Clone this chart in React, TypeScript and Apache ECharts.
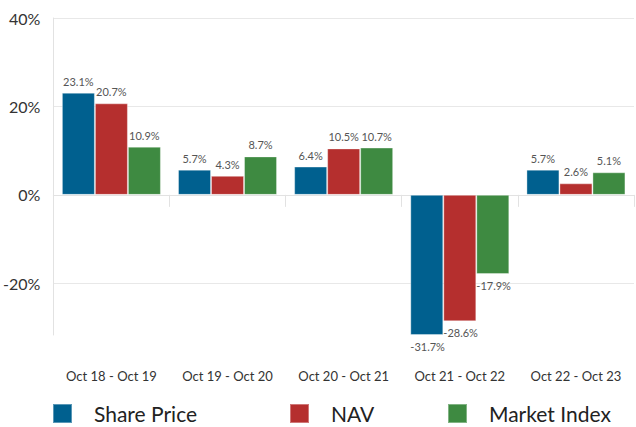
import React, { useEffect, useRef } from "react";
import * as echarts from "echarts";

const categories = ["Oct 18 - Oct 19", "Oct 19 - Oct 20", "Oct 20 - Oct 21", "Oct 21 - Oct 22", "Oct 22 - Oct 23"];
const sharePrice = [23.1, 5.7, 6.4, -31.7, 5.7];
const nav = [20.7, 4.3, 10.5, -28.6, 2.6];
const marketIndex = [10.9, 8.7, 10.7, -17.9, 5.1];
const seriesNames = ["Share Price", "NAV", "Market Index"];
const colors = ["#00608F", "#B52F2E", "#3E8A41"];

const FONT = "Lato, 'Noto Sans', sans-serif";

function makeData(values: number[]) {
  return values.map((v) =>
    v < 0
      ? {
          value: v,
          label: { position: "bottom", align: "left", offset: [-16.5, 0], distance: 6 },
        }
      : { value: v }
  );
}

export default function App() {
  const ref = useRef<HTMLDivElement>(null);
  useEffect(() => {
    if (!ref.current) return;
    const chart = echarts.init(ref.current, null, { renderer: "svg" });
    const all = [sharePrice, nav, marketIndex];
    const legendLefts = [52, 289, 447];
    chart.setOption({
      animation: false,
      textStyle: { fontFamily: FONT },
      grid: { left: 53, right: 2, top: 18, bottom: 92, containLabel: false },
      legend: seriesNames.map((n, i) => ({
        data: [n],
        left: legendLefts[i],
        top: 403,
        padding: 0,
        itemWidth: 19,
        itemHeight: 19,
        icon: "rect",
        textStyle: {
          fontSize: 21,
          lineHeight: 19,
          color: "#222",
          fontFamily: FONT,
          padding: [0, 0, 0, 17],
        },
        selectedMode: false,
      })),
      xAxis: [
        {
          type: "category",
          data: categories,
          axisLine: { show: true, onZero: true, lineStyle: { color: "#e2e2e2" } },
          axisTick: { show: true, length: 12, lineStyle: { color: "#e2e2e2" } },
          axisLabel: { show: false },
          splitLine: { show: false },
        },
        {
          type: "category",
          data: categories,
          position: "bottom",
          axisLine: { show: false, onZero: false },
          axisTick: { show: false },
          axisLabel: { show: true, interval: 0, margin: 34, fontSize: 13, color: "#333", fontFamily: FONT },
          splitLine: { show: false },
        },
      ],
      yAxis: {
        type: "value",
        min: "dataMin",
        max: 40,
        splitNumber: 3,
        axisLine: { show: true, lineStyle: { color: "#e2e2e2" } },
        axisTick: { show: false },
        axisLabel: {
          showMinLabel: false,
          margin: 13,
          fontSize: 16,
          color: "#333",
          fontFamily: FONT,
          formatter: (v: number) => (Math.abs(v % 20) < 1e-6 ? `${v}%` : ""),
        },
        splitLine: { show: true, showMinLine: false, lineStyle: { color: "#e8e8e8" } },
      },
      series: all.map((vals, i) => ({
        name: seriesNames[i],
        type: "bar",
        xAxisIndex: 0,
        data: makeData(vals),
        barWidth: 33,
        barGap: "0%",
        itemStyle: { color: colors[i], borderColor: "rgba(255,255,255,0.35)", borderWidth: 1 },
        label: {
          show: true,
          position: "top",
          distance: 6,
          fontSize: 11,
          color: "#555",
          fontFamily: FONT,
          formatter: (p: any) => `${p.value}%`,
        },
      })),
    });
    return () => chart.dispose();
  }, []);
  return <div ref={ref} style={{ width: 636, height: 427, position: "absolute", left: 0, top: 0 }} />;
}
